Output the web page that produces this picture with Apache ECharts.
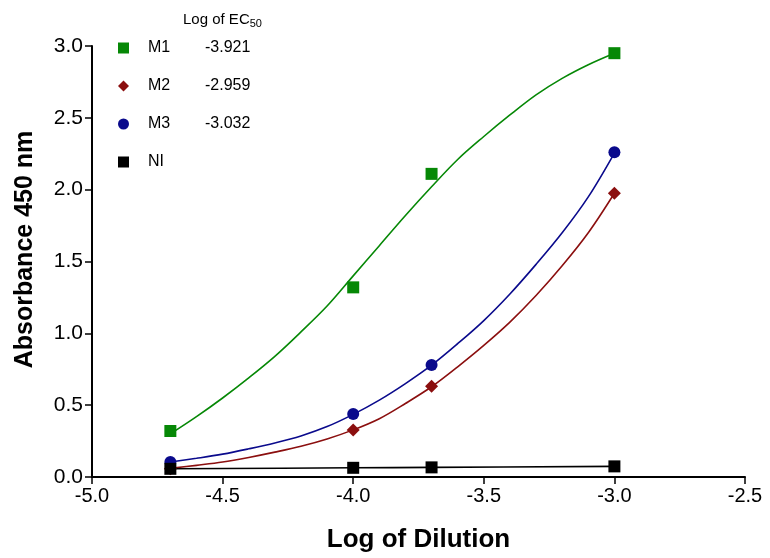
<!DOCTYPE html>
<html>
<head>
<meta charset="utf-8">
<script src="https://cdn.jsdelivr.net/npm/echarts@6/dist/echarts.min.js"></script>
<style>
html,body{margin:0;padding:0;background:#fff;}
#chart{width:770px;height:558px;}
</style>
</head>
<body>
<div id="chart"></div>
<script>
// ---- Data ----
const dilutions = [-4.7, -4.0, -3.7, -3.0];
const m1Points = [0.32, 1.32, 2.11, 2.95];
const m2Points = [0.057, 0.328, 0.632, 1.975];
const m3Points = [0.104, 0.438, 0.78, 2.26];
const niPoints = [0.057, 0.064, 0.067, 0.074];

const seriesNames = ['M1', 'M2', 'M3', 'NI'];
const ec50Labels = ['-3.921', '-2.959', '-3.032', ''];

// fitted curves at evenly spaced dilutions
const curveX = [-4.7, -4.6, -4.5, -4.4, -4.3, -4.2, -4.1, -4.0, -3.9, -3.8, -3.7, -3.6, -3.5, -3.4, -3.3, -3.2, -3.1, -3.0];
const m1CurveY = [0.30, 0.42, 0.55, 0.69, 0.84, 1.01, 1.19, 1.40, 1.61, 1.82, 2.02, 2.21, 2.37, 2.52, 2.66, 2.775, 2.87, 2.95];
const m2CurveY = [0.060, 0.081, 0.104, 0.136, 0.173, 0.214, 0.265, 0.328, 0.406, 0.512, 0.628, 0.767, 0.916, 1.078, 1.263, 1.47, 1.70, 1.975];
const m3CurveY = [0.104, 0.13, 0.159, 0.196, 0.237, 0.286, 0.351, 0.436, 0.535, 0.65, 0.778, 0.928, 1.089, 1.274, 1.48, 1.70, 1.95, 2.255];
const niCurveX = [-4.7, -4.0, -3.7, -3.0];
const niCurveY = [0.057, 0.064, 0.067, 0.074];

const xTicks = [-5.0, -4.5, -4.0, -3.5, -3.0, -2.5];
const yTicks = [0.0, 0.5, 1.0, 1.5, 2.0, 2.5, 3.0];

// ---- styling ----
const colors = {M1: '#068806', M2: '#8b0f0f', M3: '#0a0a8c', NI: '#000000'};
const symbols = {M1: 'rect', M2: 'diamond', M3: 'circle', NI: 'rect'};
const symSizes = {M1: 12, M2: 13, M3: 12, NI: 12};

const pts = {M1: m1Points, M2: m2Points, M3: m3Points, NI: niPoints};
const curves = {
  M1: [curveX, m1CurveY], M2: [curveX, m2CurveY],
  M3: [curveX, m3CurveY], NI: [niCurveX, niCurveY]
};
const zip = (a, b) => a.map((v, i) => [v, b[i]]);

const series = [];
seriesNames.forEach(n => {
  series.push({
    name: n + ' fit', type: 'line', smooth: 0.35, showSymbol: false, silent: true,
    data: zip(curves[n][0], curves[n][1]),
    lineStyle: {color: colors[n], width: 1.6}, z: 2
  });
});
seriesNames.forEach(n => {
  series.push({
    name: n, type: 'scatter', symbol: symbols[n], symbolSize: symSizes[n],
    data: zip(dilutions, pts[n]),
    itemStyle: {color: colors[n], opacity: 1}, z: 5
  });
});

const chart = echarts.init(document.getElementById('chart'), null, {renderer: 'canvas'});
chart.setOption({
  animation: false,
  backgroundColor: '#ffffff',
  grid: {left: 92, right: 25, top: 46, bottom: 79, containLabel: false},
  legend: {
    orient: 'vertical', left: 113, top: 35, itemWidth: 11, itemHeight: 11, itemGap: 22,
    data: seriesNames.map(n => ({name: n, icon: symbols[n], itemStyle: {color: colors[n], opacity: 1}})),
    formatter: name => '{n|' + name + '}{v|' + ec50Labels[seriesNames.indexOf(name)] + '}',
    textStyle: {
      padding: [0, 0, 0, 14],
      rich: {
        n: {fontFamily: 'Liberation Sans, Arial', fontSize: 16, color: '#000', width: 57},
        v: {fontFamily: 'Liberation Sans, Arial', fontSize: 16, color: '#000'}
      }
    },
    selectedMode: false
  },
  graphic: [{
    type: 'text', left: 183, top: 12,
    style: {
      text: 'Log of EC{s|50}',
      fontFamily: 'Liberation Sans, Arial', fontSize: 15, fill: '#000',
      rich: {s: {fontSize: 11, fontFamily: 'Liberation Sans, Arial', padding: [8, 0, 0, 0]}}
    }
  }],
  xAxis: {
    type: 'value', min: -5.0, max: -2.5, interval: 0.5,
    name: 'Log of Dilution', nameLocation: 'middle', nameGap: 50,
    nameTextStyle: {fontFamily: 'Liberation Sans, Arial', fontWeight: 'bold', fontSize: 26, color: '#000'},
    axisLine: {onZero: false, lineStyle: {color: '#000', width: 2}},
    axisTick: {show: true, length: 7, lineStyle: {color: '#000', width: 1.5}},
    axisLabel: {
      fontFamily: 'Liberation Sans, Arial', fontSize: 20, color: '#000', margin: 9,
      formatter: v => xTicks.includes(v) ? v.toFixed(1) : ''
    },
    splitLine: {show: false}
  },
  yAxis: {
    type: 'value', min: 0, max: 3.0, interval: 0.5,
    name: 'Absorbance 450 nm', nameLocation: 'middle', nameGap: 54, nameRotate: 90,
    nameTextStyle: {fontFamily: 'Liberation Sans, Arial', fontWeight: 'bold', fontSize: 25, color: '#000', padding: [0, 0, 0, 24]},
    axisLine: {onZero: false, lineStyle: {color: '#000', width: 2}},
    axisTick: {show: true, length: 7, lineStyle: {color: '#000', width: 1.5}},
    axisLabel: {
      fontFamily: 'Liberation Sans, Arial', fontSize: 21, color: '#000', margin: 9,
      formatter: v => yTicks.includes(v) ? v.toFixed(1) : ''
    },
    splitLine: {show: false}
  },
  series: series
});
</script>
</body>
</html>
